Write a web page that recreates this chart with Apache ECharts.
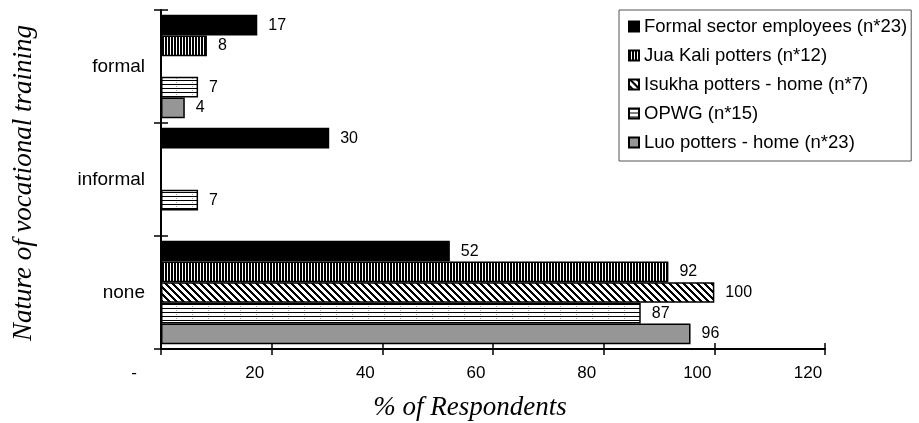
<!DOCTYPE html>
<html>
<head>
<meta charset="utf-8">
<script src="https://cdn.jsdelivr.net/npm/echarts@6/dist/echarts.min.js"></script>
<style>
html,body{margin:0;padding:0;background:#fff;}
#chart{width:919px;height:423px;}
</style>
</head>
<body>
<div id="chart"></div>
<script>
// ---- data ----
const categories = ['formal', 'informal', 'none'];
const seriesNames = [
  'Formal sector employees (n*23)',
  'Jua Kali potters (n*12)',
  'Isukha potters - home (n*7)',
  'OPWG (n*15)',
  'Luo potters - home (n*23)'
];
const formalSector = [17.4, 30.4, 52.2];
const juaKali = [8.3, null, 91.7];
const isukha = [null, null, 100];
const opwg = [6.7, 6.7, 86.7];
const luo = [4.3, null, 95.7];
const xTickValues = [0, 20, 40, 60, 80, 100, 120];

// ---- patterns ----
function makeTile(w, h, fn) {
  const c = document.createElement('canvas');
  c.width = w; c.height = h;
  const ctx = c.getContext('2d');
  ctx.fillStyle = '#fff';
  ctx.fillRect(0, 0, w, h);
  for (let y = 0; y < h; y++) {
    for (let x = 0; x < w; x++) {
      const col = fn(x, y);
      if (col) { ctx.fillStyle = col; ctx.fillRect(x, y, 1, 1); }
    }
  }
  return { image: c, repeat: 'repeat' };
}
const vStripes = makeTile(3, 3, (x, y) => (x < 2 ? '#000' : null));
const diag = makeTile(7, 7, (x, y) => ((((x - y) % 7) + 7) % 7 < 3 ? '#000' : null));
const hLines = makeTile(16, 4, (x, y) => (y === 0 ? '#000' : (x === 0 && y === 2 ? '#aaa' : null)));

const fills = ['#000000', vStripes, diag, hLines, '#969696'];
const dataSets = [formalSector, juaKali, isukha, opwg, luo];

const FONT = "'Liberation Sans', Arial, sans-serif";
const SERIF = "'Liberation Serif', 'Times New Roman', serif";

const GRID = { left: 161, top: 10, right: 94, bottom: 74 };
const gridH = 423 - GRID.top - GRID.bottom;

const series = seriesNames.map((name, i) => ({
  name: name,
  type: 'bar',
  xAxisIndex: 0,
  yAxisIndex: 0,
  data: dataSets[i],
  barGap: '0%',
  barCategoryGap: '8.4%',
  itemStyle: { color: fills[i], borderColor: '#000', borderWidth: 1.5 },
  label: {
    show: true,
    position: 'right',
    distance: 11,
    color: '#000',
    fontFamily: FONT,
    fontSize: 16,
    formatter: p => (p.value == null ? '' : String(Math.round(p.value)))
  },
  emphasis: { disabled: true },
  animation: false
}));

const tickStyle = { color: '#000', width: 1.5 };

const chart = echarts.init(document.getElementById('chart'), null, { renderer: 'canvas' });
chart.setOption({
  animation: false,
  backgroundColor: '#fff',
  grid: Object.assign({ containLabel: false }, GRID),
  legend: {
    orient: 'vertical',
    left: 619,
    top: 10,
    padding: [7, 4, 9, 9],
    itemGap: 10,
    itemWidth: 10,
    itemHeight: 10,
    icon: 'rect',
    selectedMode: false,
    borderColor: '#555',
    borderWidth: 1,
    backgroundColor: '#fff',
    data: seriesNames,
    textStyle: { fontFamily: FONT, fontSize: 18.5, color: '#000' }
  },
  xAxis: [{
    type: 'value',
    position: 'bottom',
    min: 0, max: 120, interval: 20,
    axisLine: { show: true, lineStyle: { color: '#000', width: 2 } },
    axisTick: { show: true, inside: true, length: 6, lineStyle: tickStyle },
    splitLine: { show: false },
    axisLabel: {
      margin: 16,
      formatter: v => (v === 0 ? '{z|-}' : '{n|' + v + '}'),
      rich: {
        z: { fontFamily: FONT, fontSize: 17, color: '#000', padding: [0, 54, 0, 0] },
        n: { fontFamily: FONT, fontSize: 17, color: '#000', padding: [0, 34, 0, 0] }
      }
    }
  }, {
    type: 'value',
    position: 'top',
    offset: -gridH,
    min: 0, max: 120, interval: 20,
    axisLine: { show: false },
    axisTick: { show: true, inside: true, length: 6, lineStyle: tickStyle },
    axisLabel: { show: false },
    splitLine: { show: false }
  }],
  yAxis: [{
    type: 'category',
    position: 'left',
    data: categories,
    inverse: true,
    axisLine: { show: true, lineStyle: { color: '#000', width: 2 } },
    axisTick: { show: true, inside: true, length: 7, lineStyle: tickStyle },
    axisLabel: { margin: 16, fontFamily: FONT, fontSize: 19, color: '#000' }
  }, {
    type: 'category',
    position: 'right',
    data: categories,
    inverse: true,
    axisLine: { show: true, onZero: true, lineStyle: { color: 'rgba(0,0,0,0)', width: 0 } },
    axisTick: { show: true, inside: true, length: 7, lineStyle: tickStyle },
    axisLabel: { show: false }
  }],
  graphic: [{
    type: 'text',
    x: 470, y: 408,
    style: {
      text: '% of Respondents',
      fontFamily: SERIF, fontStyle: 'italic', fontSize: 27, fill: '#000',
      x: 0, y: 0, align: 'center', verticalAlign: 'middle'
    },
    silent: true
  }, {
    type: 'text',
    x: 24, y: 183,
    rotation: Math.PI / 2,
    style: {
      text: 'Nature of vocational training',
      fontFamily: SERIF, fontStyle: 'italic', fontSize: 27, fill: '#000',
      x: 0, y: 0, align: 'center', verticalAlign: 'middle'
    },
    silent: true
  }],
  series: series
});
</script>
</body>
</html>
